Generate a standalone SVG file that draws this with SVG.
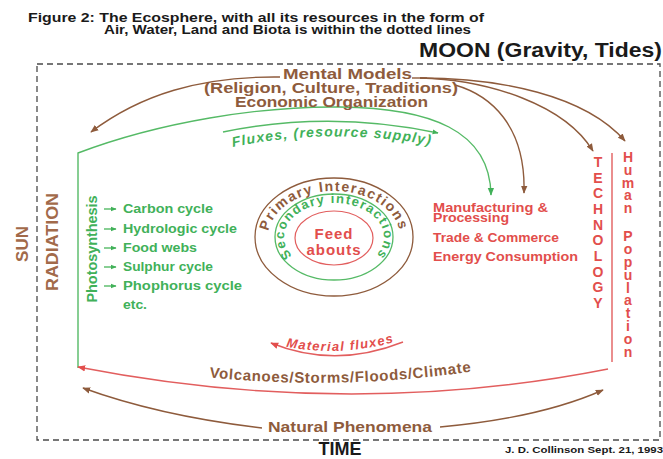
<svg xmlns="http://www.w3.org/2000/svg" width="663" height="459" viewBox="0 0 663 459">
<style>
text{font-family:"Liberation Sans",Arial,sans-serif;font-weight:bold}
.br{fill:#8e5b3c}
.sb{fill:#a26a4a}
.gr{fill:#41b159}
.rd{fill:#e24e4c}
.bk{fill:#1a1a1a}
.lb{fill:none;stroke:#8e5b3c;stroke-width:1.4}
.lg{fill:none;stroke:#55ba66;stroke-width:1.4}
.lr{fill:none;stroke:#e25e5e;stroke-width:1.4}
</style>
<defs>
<marker id="ab" viewBox="0 0 10 10" refX="9" refY="5" markerWidth="8" markerHeight="8" markerUnits="userSpaceOnUse" orient="auto"><path d="M0,1 L10,5 L0,9 z" fill="#8e5b3c"/></marker>
<marker id="ag" viewBox="0 0 10 10" refX="9" refY="5" markerWidth="8" markerHeight="8" markerUnits="userSpaceOnUse" orient="auto"><path d="M0,1 L10,5 L0,9 z" fill="#41b159"/></marker>
<marker id="ar" viewBox="0 0 10 10" refX="9" refY="5" markerWidth="8" markerHeight="8" markerUnits="userSpaceOnUse" orient="auto"><path d="M0,1 L10,5 L0,9 z" fill="#e24e4c"/></marker>
<marker id="ags" viewBox="0 0 10 10" refX="9" refY="5" markerWidth="6" markerHeight="6" markerUnits="userSpaceOnUse" orient="auto"><path d="M0,1 L10,5 L0,9 z" fill="#41b159"/></marker>
<path id="pFlux" d="M 228 148 Q 330 126 436 146"/>
<path id="pPrim" d="M 269.6 247 A 66 46 0 1 1 398.4 247"/>
<path id="pSec" d="M 291.6 255 A 50 34 0 1 1 376.4 255"/>
<path id="pMat" d="M 283 346 Q 338 358 398 341"/>
<path id="pVol" d="M 205 377 Q 340 391 476 371"/>
</defs>
<rect x="0" y="0" width="663" height="459" fill="#ffffff"/>

<g id="border">
<rect x="37" y="64" width="623" height="376" fill="none" stroke="#4a4a4a" stroke-width="1.3" stroke-dasharray="6 4"/>
</g>

<g id="title">
<text class="bk" x="28" y="22" font-size="12" textLength="456" lengthAdjust="spacingAndGlyphs">Figure 2: The Ecosphere, with all its resources in the form of</text>
<text class="bk" x="104" y="34" font-size="12" textLength="367" lengthAdjust="spacingAndGlyphs">Air, Water, Land and Biota is within the dotted lines</text>
</g>

<g id="moon">
<text class="bk" x="419" y="57" font-size="20" textLength="243" lengthAdjust="spacingAndGlyphs">MOON (Gravity, Tides)</text>
</g>

<g id="connectors">
<path class="lb" d="M 280 77 C 200 76, 140 95, 91 132" marker-end="url(#ab)"/>
<path class="lb" d="M 412 78 L 427 78"/>
<path class="lb" d="M 420 78 C 500 78, 585 95, 625 141" marker-end="url(#ab)"/>
<path class="lb" d="M 420 78 C 490 80, 565 105, 593 151" marker-end="url(#ab)"/>
<path class="lb" d="M 455 85 C 490 95, 526 125, 524 193" marker-end="url(#ab)"/>
<path class="lg" d="M 78 368 L 78 153 C 160 122, 260 106, 340 107 C 430 108, 490 130, 491 195" marker-end="url(#ag)"/>
<path class="lg" d="M 223 132 Q 330 110 438 133" marker-end="url(#ags)"/>
<path class="lg" d="M 104 209 L 116 209" marker-end="url(#ags)"/>
<path class="lg" d="M 104 229 L 116 229" marker-end="url(#ags)"/>
<path class="lg" d="M 104 248 L 116 248" marker-end="url(#ags)"/>
<path class="lg" d="M 104 267 L 116 267" marker-end="url(#ags)"/>
<path class="lg" d="M 104 286 L 116 286" marker-end="url(#ags)"/>
<path class="lr" d="M 612 153 L 612 362"/>
<path class="lr" d="M 403 342 Q 335 369 271 343" marker-end="url(#ar)"/>
<path class="lr" d="M 608 369 Q 350 420 78 367" marker-end="url(#ar)"/>
<path class="lb" d="M 262 428 Q 160 416 83 388" marker-end="url(#ab)"/>
<path class="lb" d="M 440 427 Q 540 418 603 390" marker-end="url(#ab)"/>
</g>

<g id="mental-models">
<text class="br" x="283" y="79" font-size="15" textLength="129" lengthAdjust="spacingAndGlyphs">Mental Models</text>
<text class="br" x="204" y="93" font-size="15" textLength="254" lengthAdjust="spacingAndGlyphs">(Religion, Culture, Traditions)</text>
<text class="br" x="235" y="107" font-size="15" textLength="193" lengthAdjust="spacingAndGlyphs">Economic Organization</text>
</g>

<g id="fluxes">
<text class="gr" font-size="14" font-style="italic" letter-spacing="1.2"><textPath href="#pFlux" startOffset="50%" text-anchor="middle">Fluxes, (resource supply)</textPath></text>
</g>

<g id="sun">
<text class="sb" transform="translate(28,244) rotate(-90)" font-size="17" text-anchor="middle">SUN</text>
</g>
<g id="radiation">
<text class="sb" transform="translate(58,242) rotate(-90)" font-size="17" text-anchor="middle" textLength="98" lengthAdjust="spacingAndGlyphs">RADIATION</text>
</g>

<g id="photosynthesis">
<text class="gr" transform="translate(97,249) rotate(-90)" font-size="14" text-anchor="middle" textLength="107" lengthAdjust="spacingAndGlyphs">Photosynthesis</text>
</g>

<g id="cycles">
<text class="gr" x="123" y="213" font-size="12" textLength="90" lengthAdjust="spacingAndGlyphs">Carbon cycle</text>
<text class="gr" x="123" y="233" font-size="12" textLength="114" lengthAdjust="spacingAndGlyphs">Hydrologic cycle</text>
<text class="gr" x="123" y="252" font-size="12" textLength="74" lengthAdjust="spacingAndGlyphs">Food webs</text>
<text class="gr" x="123" y="271" font-size="12" textLength="90" lengthAdjust="spacingAndGlyphs">Sulphur cycle</text>
<text class="gr" x="123" y="290" font-size="12" textLength="119" lengthAdjust="spacingAndGlyphs">Phophorus cycle</text>
<text class="gr" x="123" y="309" font-size="12" textLength="24" lengthAdjust="spacingAndGlyphs">etc.</text>
</g>

<g id="interactions">
<ellipse cx="334" cy="237" rx="79" ry="59" fill="none" stroke="#8e5b3c" stroke-width="1.3"/>
<ellipse cx="334" cy="237" rx="59" ry="43" fill="none" stroke="#55ba66" stroke-width="1.3"/>
<ellipse cx="334" cy="238" rx="39" ry="27" fill="none" stroke="#e25e5e" stroke-width="1.2"/>
<text class="br" font-size="14" letter-spacing="1.5"><textPath href="#pPrim" startOffset="50%" text-anchor="middle">Primary Interactions</textPath></text>
<text class="gr" font-size="13" letter-spacing="1.4"><textPath href="#pSec" startOffset="50%" text-anchor="middle">Secondary interactions</textPath></text>
<text class="rd" x="334" y="239" font-size="15" text-anchor="middle" letter-spacing="1">Feed</text>
<text class="rd" x="334" y="255" font-size="15" text-anchor="middle" letter-spacing="1">abouts</text>
</g>

<g id="activities">
<text class="rd" x="433" y="212" font-size="12" textLength="115" lengthAdjust="spacingAndGlyphs">Manufacturing &amp;</text>
<text class="rd" x="433" y="222" font-size="12" textLength="76" lengthAdjust="spacingAndGlyphs">Processing</text>
<text class="rd" x="433" y="242" font-size="12" textLength="126" lengthAdjust="spacingAndGlyphs">Trade &amp; Commerce</text>
<text class="rd" x="433" y="261" font-size="12" textLength="145" lengthAdjust="spacingAndGlyphs">Energy Consumption</text>
</g>

<g id="technology">
<text class="rd" font-size="14" text-anchor="middle"><tspan x="598" y="167">T</tspan><tspan x="598" y="183">E</tspan><tspan x="598" y="198">C</tspan><tspan x="598" y="214">H</tspan><tspan x="598" y="230">N</tspan><tspan x="598" y="245">O</tspan><tspan x="598" y="261">L</tspan><tspan x="598" y="277">O</tspan><tspan x="598" y="292">G</tspan><tspan x="598" y="308">Y</tspan></text>
</g>

<g id="human-population">
<text class="rd" font-size="14" text-anchor="middle"><tspan x="628" y="162">H</tspan><tspan x="628" y="175">u</tspan><tspan x="628" y="188">m</tspan><tspan x="628" y="200">a</tspan><tspan x="628" y="213">n</tspan><tspan x="628" y="241">P</tspan><tspan x="628" y="254">o</tspan><tspan x="628" y="267">p</tspan><tspan x="628" y="280">u</tspan><tspan x="628" y="293">l</tspan><tspan x="628" y="305">a</tspan><tspan x="628" y="318">t</tspan><tspan x="628" y="331">i</tspan><tspan x="628" y="344">o</tspan><tspan x="628" y="357">n</tspan></text>
</g>

<g id="material-fluxes">
<text class="rd" font-size="13" font-style="italic" letter-spacing="1.3"><textPath href="#pMat" startOffset="50%" text-anchor="middle">Material fluxes</textPath></text>
</g>

<g id="volcanoes">
<text class="br" font-size="15" letter-spacing="0.7"><textPath href="#pVol" startOffset="50%" text-anchor="middle">Volcanoes/Storms/Floods/Climate</textPath></text>
</g>

<g id="natural-phenomena">
<text class="br" x="268" y="432" font-size="15" textLength="164" lengthAdjust="spacingAndGlyphs">Natural Phenomena</text>
</g>

<g id="time">
<text class="bk" x="340" y="455" font-size="18" text-anchor="middle">TIME</text>
</g>

<g id="credit">
<text class="bk" x="505" y="453" font-size="8.5" textLength="158" lengthAdjust="spacingAndGlyphs">J. D. Collinson Sept. 21, 1993</text>
</g>
</svg>
